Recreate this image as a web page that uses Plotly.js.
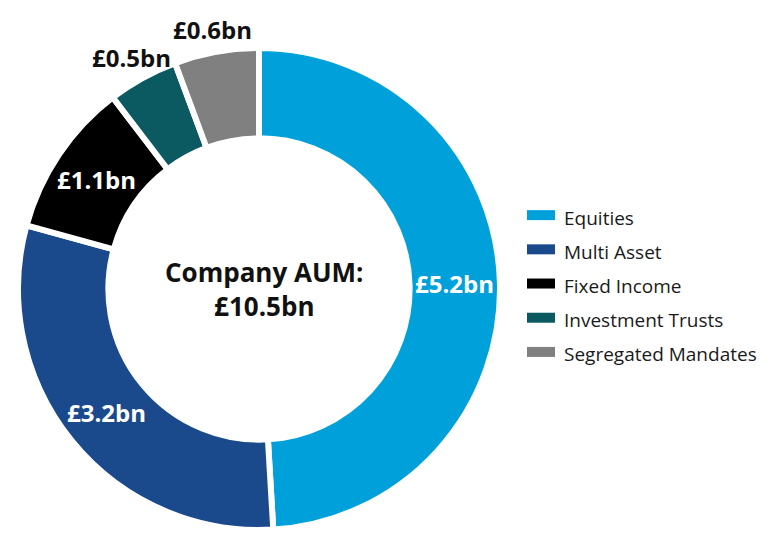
<!DOCTYPE html>
<html><head><meta charset="utf-8">
<script src="https://cdn.plot.ly/plotly-3.0.1.min.js"></script>
<style>html,body{margin:0;padding:0;background:#fff}#chart{width:775px;height:538px}</style>
</head><body><div id="chart"></div>
<script>
const categories = ['Equities', 'Multi Asset', 'Fixed Income', 'Investment Trusts', 'Segregated Mandates'];
const valuesBn = [5.2, 3.2, 1.1, 0.5, 0.6];
const colors = ['#00a1db', '#1b4a8c', '#000000', '#0b5961', '#808080'];
const labelInside = [true, true, true, false, false];
const centreTitle = 'Company AUM:';
const centreTotal = '£10.5bn';

const FONT = 'Open Sans, DejaVu Sans, sans-serif';
const W = 775, H = 538;
const HOLE = 0.625;
const dom = {x: [18 / W, 500 / W], y: [8 / H, 490 / H]};

const fmt = v => '£' + v + 'bn';

const trace = {
  type: 'pie',
  hole: HOLE,
  sort: false,
  direction: 'clockwise',
  rotation: 0,
  labels: categories.map(c => '<span style="font-size:19px">' + c + '</span>'),
  values: valuesBn,
  marker: {colors: colors, line: {color: '#ffffff', width: 6}},
  textinfo: 'none',
  domain: dom,
  showlegend: true,
  hoverinfo: 'skip'
};

// value labels placed at each slice's mid-angle (inside: mid-ring, outside: just beyond the ring)
const total = valuesBn.reduce((a, b) => a + b, 0);
const cx = (dom.x[0] + dom.x[1]) / 2 * W;
const cy = (1 - (dom.y[0] + dom.y[1]) / 2) * H;
const Rout = Math.min(dom.x[1] - dom.x[0], (dom.y[1] - dom.y[0]) * H / W) * W / 2;
const Rmid = Rout * (1 + HOLE) / 2;
const Rlab = Rout * 1.095;
const valueAnnotations = [];
let cum = 0;
valuesBn.forEach((v, i) => {
  const mid = (cum + v / 2) / total * 2 * Math.PI;
  cum += v;
  const r = labelInside[i] ? Rmid : Rlab;
  const px = cx + r * Math.sin(mid);
  const py = cy - r * Math.cos(mid);
  valueAnnotations.push({
    x: px / W, y: 1 - py / H, xref: 'paper', yref: 'paper',
    xanchor: 'center', yanchor: 'middle',
    text: fmt(v), showarrow: false,
    font: {family: FONT, size: 24, weight: 700, color: labelInside[i] ? '#ffffff' : '#111111'}
  });
});

const layout = {
  width: W, height: H,
  margin: {l: 0, r: 0, t: 0, b: 0},
  paper_bgcolor: '#ffffff',
  showlegend: true,
  legend: {
    x: 524 / W, y: 0.473, xanchor: 'left', yanchor: 'middle',
    font: {family: FONT, size: 24, color: '#1a1a1a'},
    bgcolor: 'rgba(0,0,0,0)'
  },
  annotations: [
    {x: 264 / W, y: 1 - 289 / H, xref: 'paper', yref: 'paper', yanchor: 'middle',
     text: centreTitle + '<br>' + centreTotal, showarrow: false,
     font: {family: FONT, size: 26, weight: 700, color: '#111111'}}
  ].concat(valueAnnotations)
};

Plotly.newPlot('chart', [trace], layout, {displayModeBar: false, staticPlot: true}).then(gd => {
  gd.querySelectorAll('.legend .legendpoints path').forEach(p => {
    p.setAttribute('d', 'M-17,5V-5H11V5Z');
    p.style.strokeWidth = '0';
  });
});
</script></body></html>
